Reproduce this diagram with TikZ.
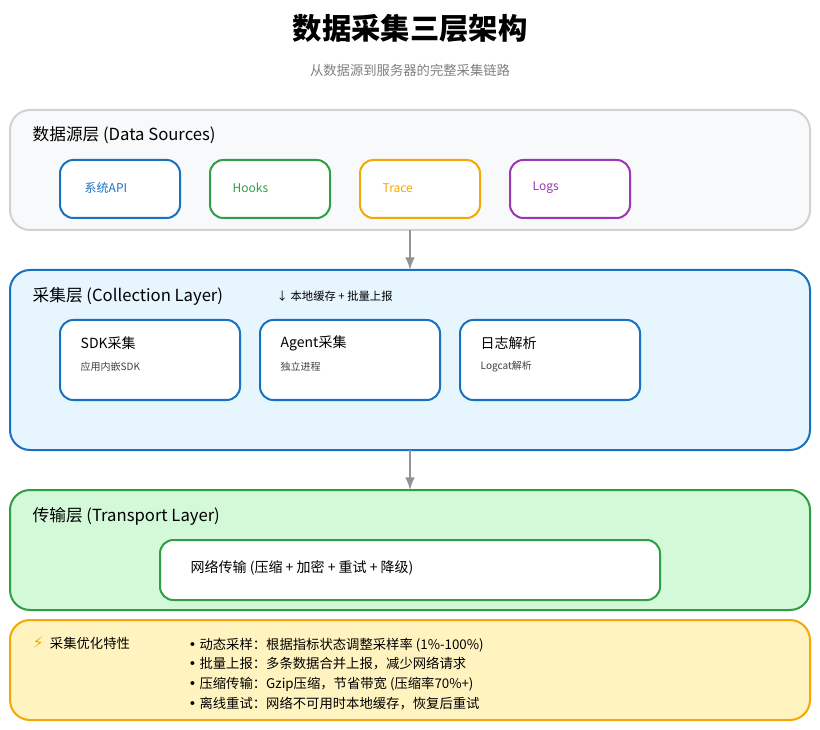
\documentclass[tikz,border=0pt]{standalone}
\usepackage{fontspec}
\setmainfont{Noto Sans CJK SC}
\newfontfamily\djv{DejaVu Sans}
\begin{document}
\begin{tikzpicture}[x=0.75pt,y=-0.75pt,
 box/.style={rounded corners=15pt,line width=1.5pt},
 ibox/.style={rounded corners=10pt,line width=1.5pt,fill=white},
 lbl/.style={anchor=west,font=\fontsize{12.5}{14}\selectfont},
 itxt/.style={anchor=west,font=\fontsize{9}{11}\selectfont},
 sub/.style={anchor=west,font=\fontsize{7.5}{9}\selectfont,text=black!75},
 arr/.style={-latex,line width=2.2pt,draw=gray!85}]
\definecolor{cblue}{HTML}{1971C2}\definecolor{cgreen}{HTML}{2F9E44}
\definecolor{corange}{HTML}{F5A800}\definecolor{cpurple}{HTML}{9C36B5}
\definecolor{fblue}{HTML}{E7F5FF}\definecolor{fgreen}{HTML}{D3F9D8}
\definecolor{fyellow}{HTML}{FFF3BF}\definecolor{fgray}{HTML}{F8F9FA}
\useasboundingbox[fill=white] (0,0) rectangle (820,730);
\node (title) at (410,28) {\fontsize{22}{24}\selectfont\bfseries 数据采集三层架构};
\node[text=gray] (subt) at (410,70) {\fontsize{10}{12}\selectfont 从数据源到服务器的完整采集链路};
% layer 1
\draw[box,fill=fgray,draw=gray!35] (10,110) rectangle (810,230);
\node[lbl] (l1) at (28,135) {数据源层 (Data Sources)};
\draw[ibox,draw=cblue] (60,160) rectangle (180,218);
\node[itxt,text=cblue] (a1) at (80,188) {系统API};
\draw[ibox,draw=cgreen] (210,160) rectangle (330,218);
\node[itxt,text=cgreen] (a2) at (228,188) {Hooks};
\draw[ibox,draw=corange] (360,160) rectangle (480,218);
\node[itxt,text=corange] (a3) at (378,188) {Trace};
\draw[ibox,draw=cpurple] (510,160) rectangle (630,218);
\node[itxt,text=cpurple] (a4) at (528,188) {Logs};
% layer 2
\coordinate (p1) at (410,230); \coordinate (p2) at (410,270);
\draw[arr] (p1) -- (p2);
\draw[box,fill=fblue,draw=cblue] (10,270) rectangle (810,450);
\node[lbl] (l2) at (28,296) {采集层 (Collection Layer)};
\node[itxt,font=\fontsize{8.5}{10}\selectfont] (n2) at (272,296) {↓ 本地缓存 + 批量上报};
\draw[ibox,draw=cblue] (60,320) rectangle (240,400);
\draw[ibox,draw=cblue] (260,320) rectangle (440,400);
\draw[ibox,draw=cblue] (460,320) rectangle (640,400);
\node[lbl,font=\fontsize{10.5}{12}\selectfont] (b1) at (76,343) {SDK采集};
\node[sub] (b1s) at (76,367) {应用内嵌SDK};
\node[lbl,font=\fontsize{10.5}{12}\selectfont] (b2) at (276,343) {Agent采集};
\node[sub] (b2s) at (276,367) {独立进程};
\node[lbl,font=\fontsize{10.5}{12}\selectfont] (b3) at (476,343) {日志解析};
\node[sub] (b3s) at (476,367) {Logcat解析};
% layer 3
\coordinate (q1) at (410,450); \coordinate (q2) at (410,490);
\draw[arr] (q1) -- (q2);
\draw[box,fill=fgreen,draw=cgreen] (10,490) rectangle (810,610);
\node[lbl] (l3) at (28,516) {传输层 (Transport Layer)};
\draw[ibox,draw=cgreen] (160,540) rectangle (660,600);
\node[lbl,font=\fontsize{10.5}{12}\selectfont] (c1) at (186,568) {网络传输 (压缩 + 加密 + 重试 + 降级)};
% features
\draw[box,fill=fyellow,draw=corange] (10,620) rectangle (810,720);
\node[lbl,font=\fontsize{10}{12}\selectfont] (f0) at (28,643) {{\djv\fontsize{12}{12}\selectfont\color{corange}⚡}\ \ 采集优化特性};
\node[lbl,font=\fontsize{10}{12}\selectfont] (f1) at (184,645) {{\djv •} 动态采样：根据指标状态调整采样率 (1\%-100\%)};
\node[lbl,font=\fontsize{10}{12}\selectfont] (f2) at (184,664) {{\djv •} 批量上报：多条数据合并上报，减少网络请求};
\node[lbl,font=\fontsize{10}{12}\selectfont] (f3) at (184,684) {{\djv •} 压缩传输：Gzip压缩，节省带宽 (压缩率70\%+)};
\node[lbl,font=\fontsize{10}{12}\selectfont] (f4) at (184,704) {{\djv •} 离线重试：网络不可用时本地缓存，恢复后重试};
\end{tikzpicture}
\end{document}
